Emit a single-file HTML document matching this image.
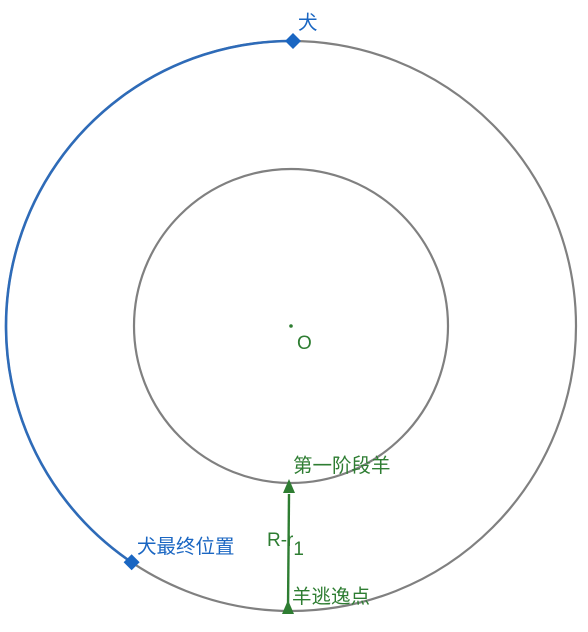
<!DOCTYPE html>
<html><head><meta charset="utf-8"><style>
html,body{margin:0;padding:0;background:#fff;}
svg{display:block;font-family:"Liberation Sans","Noto Sans CJK SC",sans-serif;}
</style></head><body>
<svg id="chart" width="588" height="632" viewBox="0 0 588 632" xmlns="http://www.w3.org/2000/svg"></svg>
<script>
const center = [291, 326];
const radii = [285, 157];          // outer R, inner r1
const dogStartDeg = [90];          // math angle (deg)
const dogEndDeg = [236];
const sheepStageR = [158];
const labels = ["犬", "犬最终位置", "第一阶段羊", "羊逃逸点", "O"];

const NS = "http://www.w3.org/2000/svg";
const svgEl = document.getElementById('chart');
function pt(r, deg){ const a = deg*Math.PI/180; return [center[0]+r*Math.cos(a), center[1]-r*Math.sin(a)]; }
function mk(tag, attrs){ const el = document.createElementNS(NS, tag); for (const k in attrs) el.setAttribute(k, attrs[k]); svgEl.appendChild(el); return el; }

const c1 = mk('circle',{cx:center[0],cy:center[1],r:radii[0],fill:'none',stroke:'#808080','stroke-width':2.2});


const c2 = mk('circle',{cx:center[0],cy:center[1],r:radii[1],fill:'none',stroke:'#808080','stroke-width':2.2});



const ps = pt(radii[0], dogStartDeg[0]), pe = pt(radii[0], dogEndDeg[0]);
const large = (dogEndDeg[0]-dogStartDeg[0]) > 180 ? 1 : 0;
const arc = mk('path',{d:`M${ps[0]},${ps[1]} A${radii[0]},${radii[0]} 0 ${large} 0 ${pe[0]},${pe[1]}`,fill:'none',stroke:'#2e6bb8','stroke-width':2.6});



function diamond(p, name){
  const d = mk('path',{d:`M${p[0]},${p[1]-8} L${p[0]+8},${p[1]} L${p[0]},${p[1]+8} L${p[0]-8},${p[1]} Z`,fill:'#1a66c2'});
  
  
}
diamond([ps[0]+2, ps[1]], 'dog-start-marker');
diamond(pe, 'dog-final-marker');

const arrowBot = pt(radii[0], 270), arrowTop = pt(sheepStageR[0], 270);
const ln = mk('line',{x1:arrowBot[0]-3,y1:arrowBot[1]-1,x2:arrowTop[0]-2,y2:arrowTop[1]+10,stroke:'#2e7d32','stroke-width':2.4});


const a1 = mk('path',{d:`M${arrowTop[0]-2},${arrowTop[1]-5} L${arrowTop[0]+4},${arrowTop[1]+9} L${arrowTop[0]-8},${arrowTop[1]+9} Z`,fill:'#2e7d32'});


const a2 = mk('path',{d:`M${arrowBot[0]-3},${arrowBot[1]-11} L${arrowBot[0]+3},${arrowBot[1]+3} L${arrowBot[0]-9},${arrowBot[1]+3} Z`,fill:'#2e7d32'});



const dot = mk('circle',{cx:center[0],cy:center[1],r:1.8,fill:'#2e7d32'});



function txt(x,y,str,fill,name,size){
  const t = mk('text',{x:x,y:y,fill:fill,'font-size':size||19.5});
  t.textContent = str;
  
  
  return t;
}
txt(298, 29, labels[0], '#1a66c2', 'dog-label');
txt(137, 553, labels[1], '#1a66c2', 'dog-final-label');
txt(293, 472, labels[2], '#2e7d32', 'stage1-sheep-label');
txt(292, 603, labels[3], '#2e7d32', 'escape-point-label');
txt(297, 349, labels[4], '#2e7d32', 'center-label', 19);
const rl = txt(267, 546, 'R-r', '#2e7d32', 'r-minus-r1-label', 19);
const sub = document.createElementNS(NS,'tspan');
sub.setAttribute('dy','9'); sub.setAttribute('font-size','19'); sub.textContent='1';
rl.appendChild(sub);
</script>
</body></html>
